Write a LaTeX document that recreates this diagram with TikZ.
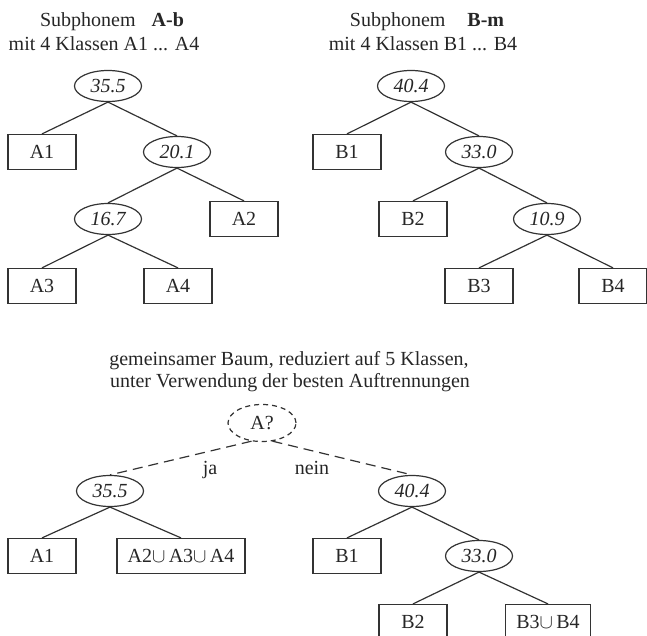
\documentclass[tikz,border=0pt]{standalone}
\usepackage{fontspec}
\setmainfont{Liberation Serif}
\usepackage{tikz}
\usetikzlibrary{shapes.geometric}

\tikzset{
    leaf/.style={draw=black!80, line width=0.6pt, rectangle, minimum width=34pt, minimum height=17.5pt, inner sep=1pt, text=black!85},
    split/.style={draw=black!80, line width=0.6pt, ellipse, minimum width=33.5pt, minimum height=15.5pt, inner sep=0pt, font=\itshape, text=black!85},
    branch/.style={draw=black!80, line width=0.6pt},
    caption/.style={anchor=base, inner sep=0pt, text=black!85}
}

\begin{document}
\begin{tikzpicture}[x=0.5pt, y=-0.5pt]
                \useasboundingbox (0, 0) rectangle (647, 636);

                % titles
                \node[caption] (TA1) at (112, 27){Subphonem\hspace{0.8em}\textbf{A-b}};
                \node[caption] (TA2) at (104, 51){mit 4 Klassen A1 ... A4};
                \node[caption] (TB1) at (427, 27){Subphonem\hspace{1.1em}\textbf{B-m}};
                \node[caption] (TB2) at (423, 51){mit 4 Klassen B1 ... B4};
                \node[caption] (TC1) at (289, 365){gemeinsamer Baum, reduziert auf 5 Klassen,};
                \node[caption] (TC2) at (290, 387){unter Verwendung der besten Auftrennungen};

                % Baum A-b
                \node[split] (SA1) at (108, 86){35.5};
                \node[leaf] (A1) at (42, 152){A1};
                \node[split] (SA2) at (177, 152){20.1};
                \node[split] (SA3) at (108, 219){16.7};
                \node[leaf] (A2) at (244, 219){A2};
                \node[leaf] (A3) at (42, 286){A3};
                \node[leaf] (A4) at (178, 286){A4};

                % Baum B-m
                \node[split] (SB1) at (411, 86){40.4};
                \node[leaf] (B1) at (347, 152){B1};
                \node[split] (SB2) at (479, 152){33.0};
                \node[leaf] (B2) at (413, 219){B2};
                \node[split] (SB3) at (547, 219){10.9};
                \node[leaf] (B3) at (479, 286){B3};
                \node[leaf] (B4) at (613, 286){B4};

                % gemeinsamer Baum
                \node[split, dashed, dash pattern=on 2.5pt off 2pt, minimum width=34pt, minimum height=18.5pt, font=\upshape] (Q) at (262, 423){A?};
                \node[split] (SC1) at (110, 491){35.5};
                \node[split] (SC2) at (412, 491){40.4};
                \node[leaf] (C1) at (42, 556){A1};
                \node[leaf, minimum width=64pt] (C2) at (181, 556){A2$\cup$\,A3$\cup$\,A4};
                \node[leaf] (C3) at (347, 556){B1};
                \node[split] (SC3) at (479, 556){33.0};
                \node[leaf] (C4) at (413, 622){B2};
                \node[leaf, minimum width=42.5pt] (C5) at (548, 622){B3$\cup$\,B4};
                \node[caption] (JA) at (210, 474){ja};
                \node[caption] (NEIN) at (312, 474){nein};

                \draw[branch] (SA1.south) -- (A1.north);
                \draw[branch] (SA1.south) -- (SA2.north);
                \draw[branch] (SA2.south) -- (SA3.north);
                \draw[branch] (SA2.south) -- (A2.north);
                \draw[branch] (SA3.south) -- (A3.north);
                \draw[branch] (SA3.south) -- (A4.north);

                \draw[branch] (SB1.south) -- (B1.north);
                \draw[branch] (SB1.south) -- (SB2.north);
                \draw[branch] (SB2.south) -- (B2.north);
                \draw[branch] (SB2.south) -- (SB3.north);
                \draw[branch] (SB3.south) -- (B3.north);
                \draw[branch] (SB3.south) -- (B4.north);

                \draw[branch, dash pattern=on 5pt off 3pt] (Q.240) -- (SC1.north);
                \draw[branch, dash pattern=on 5pt off 3pt] (Q.300) -- (SC2.north);
                \draw[branch] (SC1.south) -- (C1.north);
                \draw[branch] (SC1.south) -- (C2.north);
                \draw[branch] (SC2.south) -- (C3.north);
                \draw[branch] (SC2.south) -- (SC3.north);
                \draw[branch] (SC3.south) -- (C4.north);
                \draw[branch] (SC3.south) -- (C5.north);
            \end{tikzpicture}
\end{document}
